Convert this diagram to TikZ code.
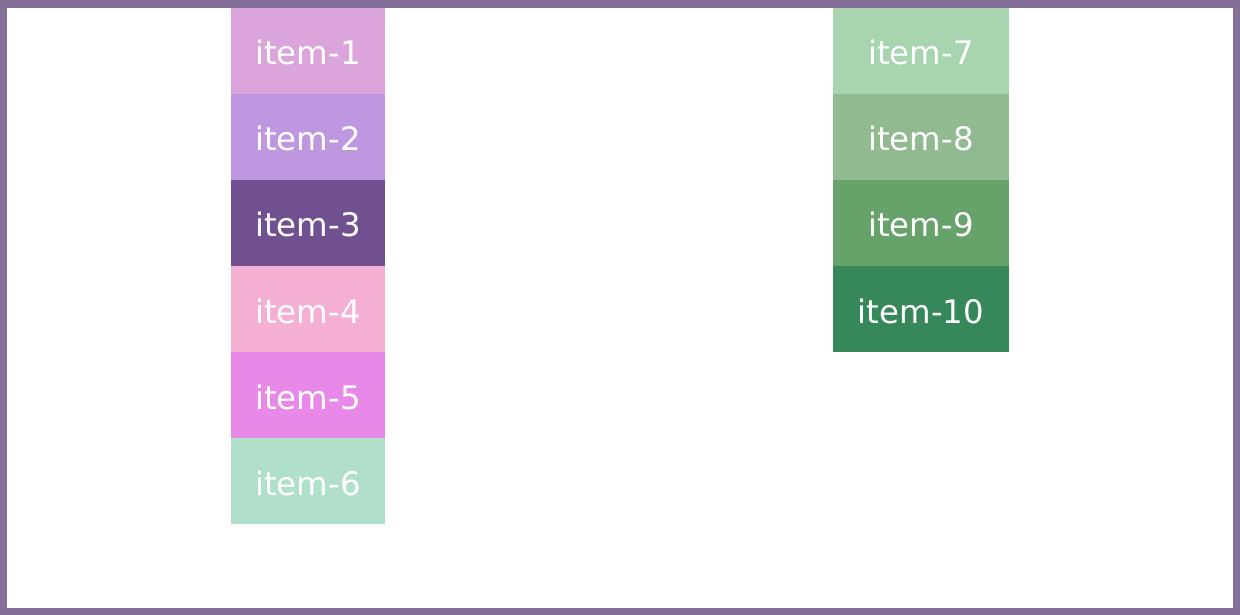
\documentclass[tikz,border=0pt]{standalone}
\usepackage{fontspec}
\setmainfont{DejaVu Sans}
\definecolor{frame}{HTML}{836F98}
\definecolor{cA}{HTML}{DBA5DB}
\definecolor{cB}{HTML}{BE97E0}
\definecolor{cC}{HTML}{705090}
\definecolor{cD}{HTML}{F5AFD2}
\definecolor{cE}{HTML}{E888E8}
\definecolor{cF}{HTML}{B0E0CA}
\definecolor{cG}{HTML}{A8D4B0}
\definecolor{cH}{HTML}{91BA91}
\definecolor{cI}{HTML}{66A26A}
\definecolor{cJ}{HTML}{36885A}
\tikzset{
  cell/.style={rectangle, inner sep=0pt, outer sep=0pt, minimum height=86bp,
    text=white, font=\fontsize{32.5}{38}\selectfont, anchor=north west,
    text height=28bp, text depth=0bp},
  leftcell/.style={cell, minimum width=154bp},
  rightcell/.style={cell, minimum width=176bp},
}
\begin{document}
\begin{tikzpicture}[x=1bp,y=-1bp]
  % outer frame
  \fill[frame] (0,0) rectangle (1240,615);
  \fill[white] (7,8) rectangle (1233,608);
  \useasboundingbox (0,0) rectangle (1240,615);
  % left column
  \node[leftcell, fill=cA] (i1) at (231,8)   {item-1};
  \node[leftcell, fill=cB] (i2) at (231,94)  {item-2};
  \node[leftcell, fill=cC] (i3) at (231,180) {item-3};
  \node[leftcell, fill=cD] (i4) at (231,266) {item-4};
  \node[leftcell, fill=cE] (i5) at (231,352) {item-5};
  \node[leftcell, fill=cF] (i6) at (231,438) {item-6};
  % right column
  \node[rightcell, fill=cG] (i7)  at (833,8)   {item-7};
  \node[rightcell, fill=cH] (i8)  at (833,94)  {item-8};
  \node[rightcell, fill=cI] (i9)  at (833,180) {item-9};
  \node[rightcell, fill=cJ] (i10) at (833,266) {item-10};
\end{tikzpicture}
\end{document}
